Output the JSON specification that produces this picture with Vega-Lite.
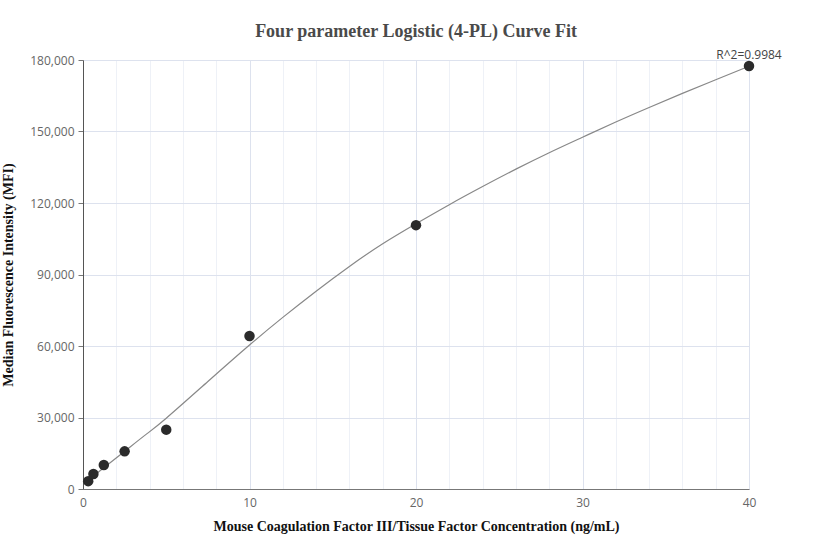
{
  "$schema": "https://vega.github.io/schema/vega-lite/v6.json",
  "width": 666,
  "height": 429,
  "autosize": {"type": "none"},
  "padding": {"left": 83, "top": 60, "right": 83, "bottom": 71},
  "background": "white",
  "title": {
    "text": "Four parameter Logistic (4-PL) Curve Fit",
    "font": "Liberation Serif",
    "fontSize": 18,
    "fontWeight": "bold",
    "color": "#4a4a4a",
    "anchor": "middle",
    "offset": 8
  },
  "config": {
    "view": {"stroke": null},
    "axis": {"labelFont": "Open Sans", "labelFontSize": 12, "labelColor": "#666666", "titleFont": "Liberation Serif", "titleFontSize": 14, "titleFontWeight": "bold", "titleColor": "#111111"}
  },
  "datasets": {
    "points": [
      {"conc": 0.3125, "mfi": 3300},
      {"conc": 0.625, "mfi": 6300},
      {"conc": 1.25, "mfi": 10100},
      {"conc": 2.5, "mfi": 15800},
      {"conc": 5, "mfi": 24900},
      {"conc": 10, "mfi": 64200},
      {"conc": 20, "mfi": 110700},
      {"conc": 40, "mfi": 177500}
    ],
    "curve": [
      {"conc": 0.3125, "mfi": 3600},
      {"conc": 0.625, "mfi": 5400},
      {"conc": 1.25, "mfi": 8900},
      {"conc": 2.5, "mfi": 15800},
      {"conc": 3.75, "mfi": 22700},
      {"conc": 5, "mfi": 29700},
      {"conc": 7.5, "mfi": 45100},
      {"conc": 10, "mfi": 60400},
      {"conc": 12, "mfi": 72000},
      {"conc": 14, "mfi": 83000},
      {"conc": 16, "mfi": 93400},
      {"conc": 18, "mfi": 102900},
      {"conc": 20, "mfi": 111300},
      {"conc": 22, "mfi": 119300},
      {"conc": 24, "mfi": 126900},
      {"conc": 26, "mfi": 134200},
      {"conc": 28, "mfi": 141100},
      {"conc": 30, "mfi": 147600},
      {"conc": 32, "mfi": 154000},
      {"conc": 34, "mfi": 160100},
      {"conc": 36, "mfi": 166000},
      {"conc": 38, "mfi": 171700},
      {"conc": 40, "mfi": 177400}
    ],
    "label": [
      {"conc": 40, "mfi": 177500, "text": "R^2=0.9984"}
    ]
  },
  "encoding": {
    "x": {
      "field": "conc", "type": "quantitative",
      "scale": {"domain": [0, 40], "nice": false, "zero": false},
      "axis": {
        "title": "Mouse Coagulation Factor III/Tissue Factor Concentration (ng/mL)",
        "values": [0,2,4,6,8,10,12,14,16,18,20,22,24,26,28,30,32,34,36,38,40],
        "labelExpr": "datum.value % 10 === 0 ? datum.label : ''",
        "labelOverlap": false,
        "labelFlush": false,
        "ticks": false,
        "grid": true,
        "gridColor": {"condition": {"test": "datum.value % 10 === 0", "value": "#dde2ee"}, "value": "#eef1f7"},
        "gridWidth": 1,
        "domainColor": "#777777",
        "labelPadding": 8,
        "titlePadding": 11
      }
    },
    "y": {
      "field": "mfi", "type": "quantitative",
      "scale": {"domain": [0, 180000], "nice": false},
      "axis": {
        "title": "Median Fluorescence Intensity (MFI)",
        "values": [0, 30000, 60000, 90000, 120000, 150000, 180000],
        "format": ",d",
        "labelOverlap": false,
        "grid": true,
        "gridColor": "#dde2ee",
        "ticks": true,
        "tickSize": 5,
        "tickColor": "#777777",
        "domainColor": "#555555",
        "labelPadding": 4,
        "titlePadding": 14
      }
    }
  },
  "layer": [
    {
      "data": {"name": "curve"},
      "mark": {"type": "line", "color": "#888888", "strokeWidth": 1.2, "interpolate": "natural"}
    },
    {
      "data": {"name": "points"},
      "mark": {"type": "circle", "color": "#2b2b2b", "opacity": 1, "size": 110}
    },
    {
      "data": {"name": "label"},
      "mark": {"type": "text", "font": "Open Sans", "fontSize": 12, "color": "#444444", "align": "center", "baseline": "bottom", "dy": -4},
      "encoding": {
        "text": {"field": "text"}
      }
    }
  ]
}
